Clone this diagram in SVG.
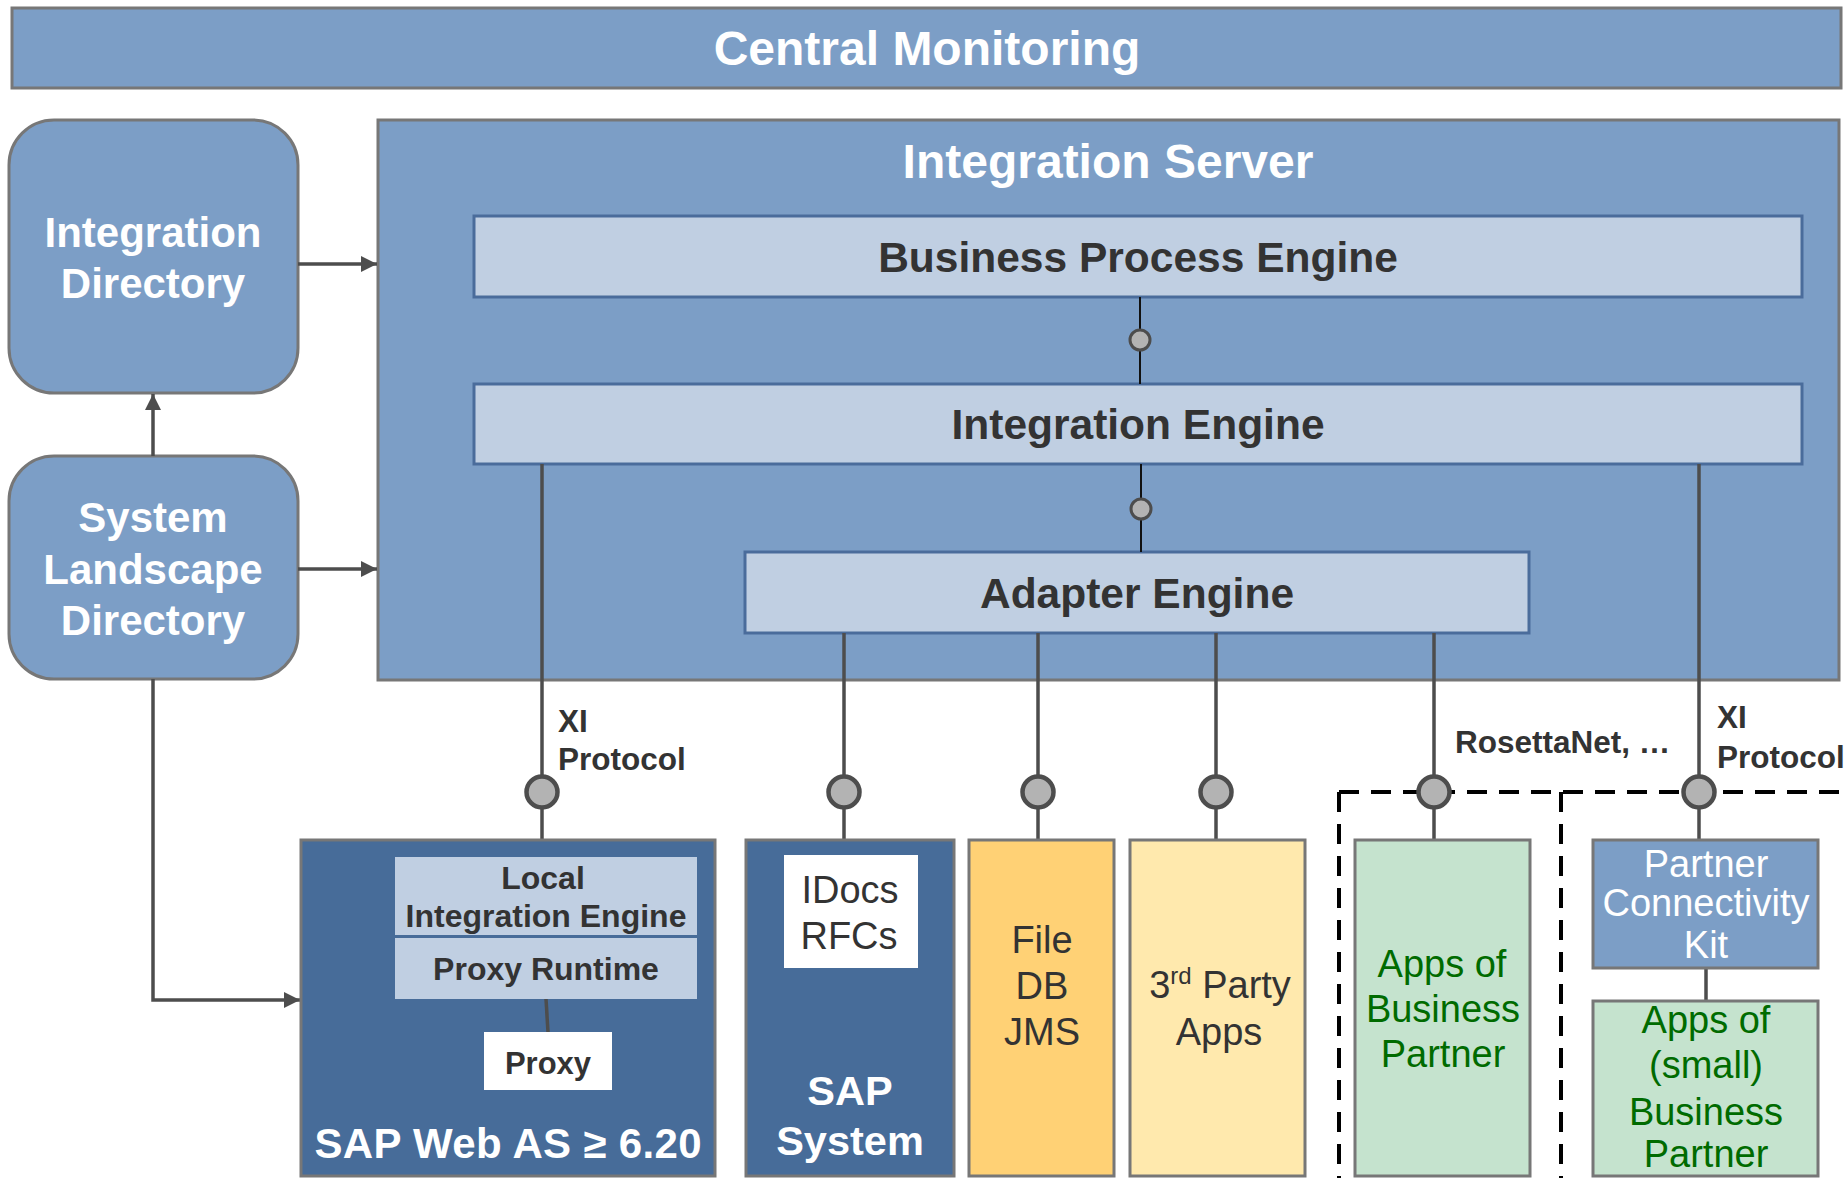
<svg xmlns="http://www.w3.org/2000/svg" width="1848" height="1178" viewBox="0 0 1848 1178">
<style>
.b{font-family:"Liberation Sans",Arial,sans-serif;font-weight:bold;text-anchor:middle}
.r{font-family:"Liberation Sans",Arial,sans-serif;text-anchor:middle}
.w{fill:#ffffff}
.d{fill:#333333}
.g{fill:#006b00}
.blue{fill:#7c9ec6;stroke:#777777;stroke-width:3}
.dark{fill:#476c99;stroke:#777777;stroke-width:3}
.inner{fill:#c0cfe2;stroke:#4a6c9b;stroke-width:3}
.lbl{font-family:"Liberation Sans",Arial,sans-serif;font-weight:bold;font-size:31.5px;fill:#333333}
.ln{stroke:#4d4d4d;stroke-width:3.5;fill:none}
.pt{fill:#b3b3b3;stroke:#4d4d4d;stroke-width:4.5}
.pts{fill:#b3b3b3;stroke:#4d4d4d;stroke-width:3}
</style>
<defs>
<marker id="arr" markerWidth="16" markerHeight="16" refX="16" refY="8" orient="auto" markerUnits="userSpaceOnUse">
<path d="M0,0 L16,8 L0,16 z" fill="#4d4d4d"/>
</marker>
</defs>

<g id="central-monitoring">
<rect class="blue" x="12" y="8" width="1829" height="80"/>
<text class="b w" x="927" y="65" font-size="48">Central Monitoring</text>
</g>

<g id="integration-directory">
<rect class="blue" x="9" y="120" width="289" height="273" rx="45"/>
<text class="b w" x="153" y="247" font-size="42">Integration</text>
<text class="b w" x="153" y="298" font-size="42">Directory</text>
</g>

<g id="system-landscape-directory">
<rect class="blue" x="9" y="456" width="289" height="223" rx="45"/>
<text class="b w" x="153" y="532" font-size="42">System</text>
<text class="b w" x="153" y="584" font-size="42">Landscape</text>
<text class="b w" x="153" y="635" font-size="42">Directory</text>
</g>

<g id="integration-server">
<rect class="blue" x="378" y="120" width="1461" height="560"/>
<text class="b w" x="1108" y="178" font-size="48">Integration Server</text>
</g>

<g id="business-process-engine">
<rect class="inner" x="474" y="216" width="1328" height="81"/>
<text class="b d" x="1138" y="272" font-size="42.5">Business Process Engine</text>
</g>

<g id="integration-engine">
<rect class="inner" x="474" y="384" width="1328" height="80"/>
<text class="b d" x="1138" y="439" font-size="42.5">Integration Engine</text>
</g>

<g id="adapter-engine">
<rect class="inner" x="745" y="552" width="784" height="81"/>
<text class="b d" x="1137" y="608" font-size="42.5">Adapter Engine</text>
</g>

<g id="connectors">
<line class="ln" x1="298" y1="264" x2="377" y2="264" marker-end="url(#arr)"/>
<line class="ln" x1="298" y1="569" x2="377" y2="569" marker-end="url(#arr)"/>
<line class="ln" x1="153" y1="456" x2="153" y2="394" marker-end="url(#arr)"/>
<path class="ln" d="M153,679 V1000 H300" marker-end="url(#arr)"/>

<line x1="1140" y1="297" x2="1140" y2="384" stroke="#111" stroke-width="2"/>
<line x1="1141" y1="464" x2="1141" y2="552" stroke="#111" stroke-width="2"/>
<circle class="pts" cx="1140" cy="340" r="10"/>
<circle class="pts" cx="1141" cy="509" r="10"/>

<g stroke="#000" stroke-width="4" stroke-dasharray="20 12" fill="none">
<line x1="1339" y1="792" x2="1840" y2="792"/>
<line x1="1339" y1="792" x2="1339" y2="1178"/>
<line x1="1561" y1="792" x2="1561" y2="1178"/>
</g>

<line class="ln" x1="542" y1="464" x2="542" y2="855"/>
<line class="ln" x1="844" y1="633" x2="844" y2="840"/>
<line class="ln" x1="1038" y1="633" x2="1038" y2="840"/>
<line class="ln" x1="1216" y1="633" x2="1216" y2="840"/>
<line class="ln" x1="1434" y1="633" x2="1434" y2="840"/>
<line class="ln" x1="1699" y1="464" x2="1699" y2="840"/>
<line class="ln" x1="1706" y1="968" x2="1706" y2="1001"/>
<circle class="pt" cx="542" cy="792" r="15.5"/>
<circle class="pt" cx="844" cy="792" r="15.5"/>
<circle class="pt" cx="1038" cy="792" r="15.5"/>
<circle class="pt" cx="1216" cy="792" r="15.5"/>
<circle class="pt" cx="1434" cy="792" r="15.5"/>
<circle class="pt" cx="1699" cy="792" r="15.5"/>

<text class="lbl" x="558" y="732">XI</text>
<text class="lbl" x="558" y="770">Protocol</text>
<text class="lbl" x="1455" y="753">RosettaNet, …</text>
<text class="lbl" x="1717" y="728">XI</text>
<text class="lbl" x="1717" y="768">Protocol</text>
</g>

<g id="sap-web-as">
<rect class="dark" x="301" y="840" width="414" height="336"/>
<rect x="395" y="857" width="302" height="78" fill="#c0cfe2"/>
<rect x="395" y="938" width="302" height="61" fill="#c0cfe2"/>
<text class="b d" x="543" y="889" font-size="32">Local</text>
<text class="b d" x="546" y="927" font-size="32">Integration Engine</text>
<text class="b d" x="546" y="980" font-size="32">Proxy Runtime</text>
<line x1="546" y1="999" x2="548" y2="1032" stroke="#4d4d4d" stroke-width="3.5"/>
<rect x="484" y="1032" width="128" height="58" fill="#ffffff"/>
<text class="b d" x="548" y="1074" font-size="31">Proxy</text>
<text class="b w" x="508" y="1158" font-size="42" textLength="387">SAP Web AS ≥ 6.20</text>
</g>

<g id="sap-system">
<rect class="dark" x="746" y="840" width="208" height="336"/>
<rect x="784" y="855" width="134" height="113" fill="#ffffff"/>
<text class="r d" x="850" y="903" font-size="38">IDocs</text>
<text class="r d" x="849" y="949" font-size="38">RFCs</text>
<text class="b w" x="850" y="1105" font-size="41.5">SAP</text>
<text class="b w" x="850" y="1155" font-size="41.5">System</text>
</g>

<g id="file-db-jms">
<rect x="969" y="840" width="145" height="336" fill="#ffd175" stroke="#777777" stroke-width="3"/>
<text class="r d" x="1042" y="953" font-size="38">File</text>
<text class="r d" x="1042" y="999" font-size="38">DB</text>
<text class="r d" x="1042" y="1045" font-size="38">JMS</text>
</g>

<g id="third-party-apps">
<rect x="1130" y="840" width="175" height="336" fill="#ffe9ad" stroke="#777777" stroke-width="3"/>
<text class="r d" x="1220" y="998" font-size="38">3<tspan font-size="24" dy="-14">rd</tspan><tspan dy="14"> Party</tspan></text>
<text class="r d" x="1219" y="1045" font-size="38">Apps</text>
</g>

<g id="apps-of-business-partner">
<rect x="1355" y="840" width="175" height="336" fill="#c5e3ce" stroke="#777777" stroke-width="3"/>
<text class="r g" x="1442" y="977" font-size="38">Apps of</text>
<text class="r g" x="1443" y="1022" font-size="38">Business</text>
<text class="r g" x="1443" y="1067" font-size="38">Partner</text>
</g>

<g id="partner-connectivity-kit">
<rect x="1593" y="840" width="225" height="128" fill="#7c9ec6" stroke="#777777" stroke-width="3"/>
<text class="r w" x="1706" y="877" font-size="38">Partner</text>
<text class="r w" x="1706" y="916" font-size="38">Connectivity</text>
<text class="r w" x="1706" y="958" font-size="38">Kit</text>
</g>

<g id="apps-of-small-business-partner">
<rect x="1593" y="1001" width="225" height="175" fill="#c5e3ce" stroke="#777777" stroke-width="3"/>
<text class="r g" x="1706" y="1033" font-size="38">Apps of</text>
<text class="r g" x="1706" y="1078" font-size="38">(small)</text>
<text class="r g" x="1706" y="1125" font-size="38">Business</text>
<text class="r g" x="1706" y="1167" font-size="38">Partner</text>
</g>
</svg>
